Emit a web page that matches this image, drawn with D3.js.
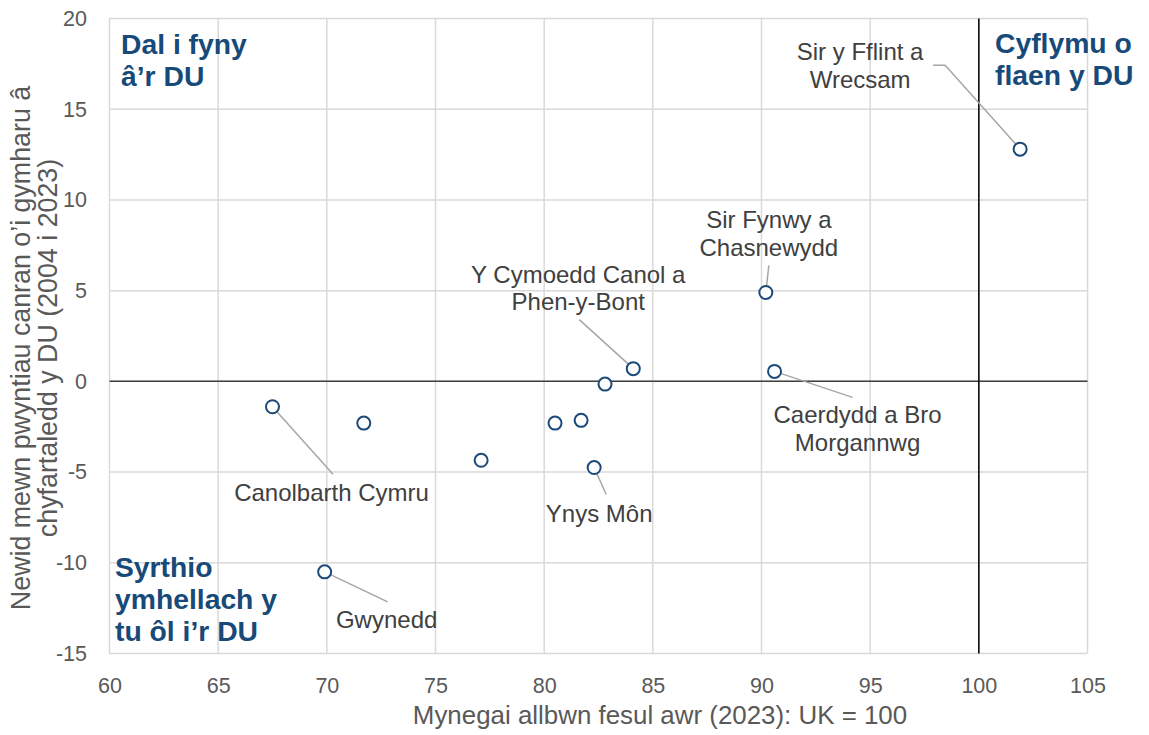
<!DOCTYPE html>
<html><head><meta charset="utf-8">
<script src="https://cdn.jsdelivr.net/npm/d3@7"></script>
<style>body{margin:0;background:#fff;} text{font-family:"Liberation Sans",Arial,sans-serif;}</style>
</head><body><svg id="c" width="1149" height="735"></svg>
<script>
const xValues = [101.9, 90.2, 84.1, 82.8, 90.6, 67.5, 71.7, 77.1, 80.5, 81.7, 82.3, 69.9];
const yValues = [12.8, 4.9, 0.7, -0.15, 0.55, -1.4, -2.3, -4.35, -2.3, -2.15, -4.75, -10.5];
const pointNames = ["Sir y Fflint a|Wrecsam", "Sir Fynwy a|Chasnewydd", "Y Cymoedd Canol a|Phen-y-Bont", "", "Caerdydd a Bro|Morgannwg", "Canolbarth Cymru", "", "", "", "", "Ynys Môn", "Gwynedd"];
const xTicks = [60, 65, 70, 75, 80, 85, 90, 95, 100, 105];
const yTicks = [-15, -10, -5, 0, 5, 10, 15, 20];
const xTitle = "Mynegai allbwn fesul awr (2023): UK = 100";
const yTitleLines = ["Newid mewn pwyntiau canran o’i gymharu â", "chyfartaledd y DU (2004 i 2023)"];
const quadrantTexts = [["Dal i fyny", "â’r DU"], ["Cyflymu o", "flaen y DU"], ["Syrthio", "ymhellach y", "tu ôl i’r DU"]];

// layout (pixel offsets relative to marks)
const quadrantLayout = [{x: 121, y: 54}, {x: 995, y: 53}, {x: 115, y: 577}];
// per point: [label dx, first-baseline dy, leader end dx, leader end dy, elbow dx]
const labelOffsets = [
  [-160, -89, -87, -84, -75],
  [3, -64, 3, -27, null],
  [-55, -86, -54, -49, null],
  null,
  [83, 52, 78, 26, null],
  [59, 94, 60.5, 67.5, null],
  null, null, null, null,
  [5, 54, 12, 27, null],
  [62, 56, 63, 30, null]
];

const FONT = "Liberation Sans, Arial, sans-serif";
const svg = d3.select("#c");
const m = {l: 109.5, r: 1087.5, t: 18.5, b: 653.5};
const x = d3.scaleLinear().domain([60, 105]).range([m.l, m.r]);
const y = d3.scaleLinear().domain([-15, 20]).range([m.b, m.t]);

// gridlines
svg.append("g").selectAll("line").data(xTicks).join("line")
  .attr("x1", d => x(d)).attr("x2", d => x(d)).attr("y1", m.t).attr("y2", m.b)
  .attr("stroke", "#d9d9d9").attr("stroke-width", 1.5);
svg.append("g").selectAll("line").data(yTicks).join("line")
  .attr("x1", m.l).attr("x2", m.r).attr("y1", d => y(d)).attr("y2", d => y(d))
  .attr("stroke", "#d9d9d9").attr("stroke-width", 1.5);

// zero line and x=100 line
svg.append("line").attr("x1", m.l).attr("x2", m.r).attr("y1", y(0)).attr("y2", y(0))
  .attr("stroke", "#404040").attr("stroke-width", 1.5);
svg.append("line").attr("x1", x(100)).attr("x2", x(100)).attr("y1", m.t).attr("y2", m.b)
  .attr("stroke", "#000").attr("stroke-width", 1.5);

// axes tick labels
const xAxis = d3.axisBottom(x).tickValues(xTicks).tickSize(0).tickPadding(24).tickFormat(d => String(d));
const gx = svg.append("g").attr("transform", `translate(0,${m.b})`).call(xAxis);
gx.select(".domain").remove();
gx.selectAll("text").attr("font-size", 21.5).attr("fill", "#595959").style("font-family", FONT);
const yAxis = d3.axisLeft(y).tickValues(yTicks).tickSize(0).tickPadding(22.5).tickFormat(d => String(d));
const gy = svg.append("g").attr("transform", `translate(${m.l},0)`).call(yAxis);
gy.select(".domain").remove();
gy.selectAll("text").attr("font-size", 21.5).attr("fill", "#595959").style("font-family", FONT);

// axis titles
svg.append("text").attr("x", 660).attr("y", 724).attr("text-anchor", "middle")
  .attr("font-size", 25.9).attr("fill", "#595959").text(xTitle);
const yt = svg.append("text").attr("transform", "translate(0,348) rotate(-90)").attr("text-anchor", "middle")
  .attr("font-size", 26.8).attr("fill", "#595959");
yTitleLines.forEach((t, i) => yt.append("tspan").attr("x", 0).attr("y", 30 + i * 27).text(t));

// leader lines
const data = xValues.map((v, i) => ({x: v, y: yValues[i], name: pointNames[i], off: labelOffsets[i]}));
const lab = data.filter(d => d.off);
svg.append("g").selectAll("path").data(lab).join("path")
  .attr("d", d => {
    const px = x(d.x), py = y(d.y), o = d.off;
    const p = d3.path();
    p.moveTo(px, py);
    if (o[4] !== null) p.lineTo(px + o[4], py + o[3]);
    p.lineTo(px + o[2], py + o[3]);
    return p.toString();
  })
  .attr("fill", "none").attr("stroke", "#a6a6a6").attr("stroke-width", 1.5);

// points
svg.append("g").selectAll("circle").data(data).join("circle")
  .attr("cx", d => x(d.x)).attr("cy", d => y(d.y)).attr("r", 6.5)
  .attr("fill", "#fff").attr("stroke", "#1b4a7a").attr("stroke-width", 2);

// point labels
lab.forEach(d => {
  const t = svg.append("text").attr("text-anchor", "middle").attr("font-size", 24).attr("fill", "#404040");
  d.name.split("|").forEach((ln, i) => t.append("tspan").attr("x", x(d.x) + d.off[0]).attr("y", y(d.y) + d.off[1] + i * 27.5).text(ln));
});

// quadrant labels
quadrantTexts.forEach((lines, qi) => {
  const q = quadrantLayout[qi];
  const t = svg.append("text").attr("font-size", 28.3).attr("font-weight", "bold").attr("fill", "#174a78");
  lines.forEach((ln, i) => t.append("tspan").attr("x", q.x).attr("y", q.y + i * 32).text(ln));
});
</script></body></html>
